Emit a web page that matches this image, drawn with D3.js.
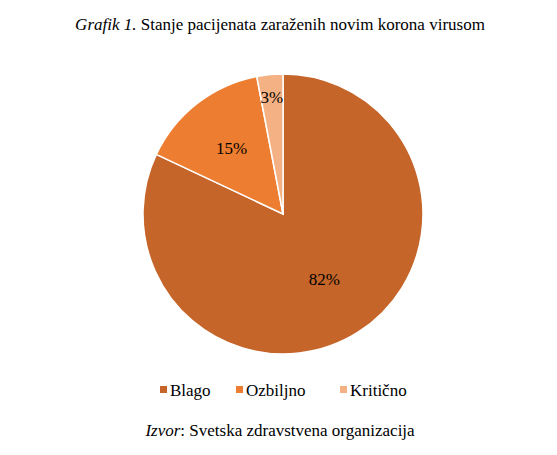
<!DOCTYPE html>
<html>
<head>
<meta charset="utf-8">
<script src="https://cdn.jsdelivr.net/npm/d3@7"></script>
<style>
  body { margin: 0; background: #fff; }
  text { font-family: "Liberation Serif", "Times New Roman", serif; fill: #000; }
</style>
</head>
<body>
<svg id="chart" width="557" height="455"></svg>
<script>
const categories = ["Blago", "Ozbiljno", "Kritično"];
const values = [82, 15, 3];
const colors = ["#C5652A", "#ED7D31", "#F4B183"];
// label distance from centre, as a share of the radius (Excel best-fit placement)
const labelPos = [0.55, 0.6, 0.84];

const width = 557, height = 455;
const cx = 283, cy = 214, radius = 140;

const svg = d3.select("#chart");

// Title
const title = svg.append("text")
    .attr("x", 280)
    .attr("y", 30)
    .attr("text-anchor", "middle")
    .style("font-size", "17px");
title.append("tspan").style("font-style", "italic").text("Grafik 1.");
title.append("tspan").text(" Stanje pacijenata zaraženih novim korona virusom");

const pie = d3.pie().sort(null).value(d => d)(values);
const arc = d3.arc().innerRadius(0).outerRadius(radius);

const g = svg.append("g").attr("transform", `translate(${cx},${cy})`);

g.selectAll("path")
    .data(pie)
    .enter()
    .append("path")
    .attr("d", arc)
    .attr("fill", (d, i) => colors[i])
    .attr("stroke", "#fff")
    .attr("stroke-width", 1.5);

g.selectAll("text.lbl")
    .data(pie)
    .enter()
    .append("text")
    .attr("class", "lbl")
    .attr("transform", (d, i) => {
        const r = radius * labelPos[i];
        const c = d3.arc().innerRadius(r).outerRadius(r).centroid(d);
        return `translate(${c[0]},${c[1]})`;
    })
    .attr("text-anchor", "middle")
    .attr("dy", "0.35em")
    .style("font-size", "17px")
    .text(d => d.data + "%");

// Legend
const legend = svg.append("g").attr("transform", "translate(0,390)");
const legX = [160, 236, 340];
categories.forEach((c, i) => {
    legend.append("rect")
        .attr("x", legX[i])
        .attr("y", -4)
        .attr("width", 7)
        .attr("height", 7)
        .attr("fill", colors[i]);
    legend.append("text")
        .attr("x", legX[i] + 10)
        .attr("y", 0)
        .attr("dy", "0.35em")
        .style("font-size", "17px")
        .text(c);
});

// Source
const src = svg.append("text")
    .attr("x", 280)
    .attr("y", 436)
    .attr("text-anchor", "middle")
    .style("font-size", "17px");
src.append("tspan").style("font-style", "italic").text("Izvor");
src.append("tspan").text(": Svetska zdravstvena organizacija");
</script>
</body>
</html>
